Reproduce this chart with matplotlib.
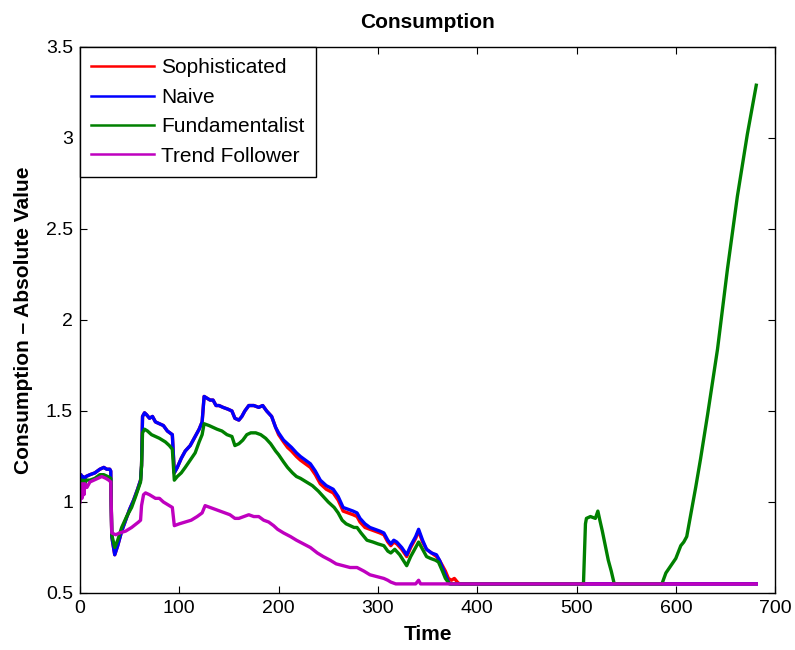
import matplotlib
matplotlib.use('Agg')
import matplotlib.pyplot as plt
from matplotlib.ticker import FormatStrFormatter

plt.rcParams['font.family'] = ['Liberation Sans', 'DejaVu Sans']

# data
naive_x = [0, 1, 2, 3, 4, 6, 10, 15, 20, 24, 27, 30, 31, 32, 35, 38, 42, 46, 50, 54, 58, 61, 62, 63, 65, 67, 70, 73, 76, 80,
           84, 88, 93, 95, 98, 102, 106, 111, 116, 120, 123, 125, 128, 131, 134, 137, 140, 144, 149, 153, 156, 160, 163, 166,
           170, 175, 180, 184, 188, 193, 197, 200, 205, 209, 213, 218, 222, 227, 232, 237, 242, 248, 255, 260, 265, 270, 275,
           279, 282, 287, 292, 297, 302, 306, 310, 313, 316, 319, 324, 329, 333, 338, 341, 345, 349, 354, 359, 362, 365, 368,
           371, 373, 681]
naive_y = [1.08, 1.15, 1.10, 1.14, 1.12, 1.14, 1.15, 1.16, 1.18, 1.19, 1.18, 1.18, 1.17, 0.81, 0.71, 0.76, 0.84, 0.90, 0.96,
           1.01, 1.07, 1.12, 1.20, 1.47, 1.49, 1.48, 1.46, 1.47, 1.44, 1.43, 1.42, 1.39, 1.37, 1.16, 1.19, 1.24, 1.28, 1.31,
           1.36, 1.40, 1.44, 1.58, 1.57, 1.56, 1.56, 1.53, 1.53, 1.52, 1.51, 1.50, 1.46, 1.45, 1.47, 1.50, 1.53, 1.53, 1.52,
           1.53, 1.50, 1.47, 1.41, 1.38, 1.34, 1.32, 1.30, 1.27, 1.25, 1.23, 1.21, 1.17, 1.12, 1.09, 1.07, 1.03, 0.97, 0.96,
           0.95, 0.94, 0.91, 0.88, 0.86, 0.85, 0.84, 0.83, 0.79, 0.77, 0.79, 0.78, 0.75, 0.71, 0.76, 0.81, 0.85, 0.79, 0.74,
           0.72, 0.71, 0.68, 0.64, 0.60, 0.56, 0.55, 0.55]

soph_x = [0, 1, 2, 3, 4, 6, 10, 15, 20, 24, 27, 30, 31, 32, 35, 38, 42, 46, 50, 54, 58, 61, 62, 63, 65, 67, 70, 73, 76, 80,
          84, 88, 93, 95, 98, 102, 106, 111, 116, 120, 123, 125, 128, 131, 134, 137, 140, 144, 149, 153, 156, 160, 163, 166,
          170, 175, 180, 184, 188, 193, 197, 200, 205, 209, 213, 218, 222, 227, 232, 237, 242, 248, 255, 260, 265, 270, 275,
          279, 282, 287, 292, 297, 302, 306, 310, 313, 316, 319, 324, 329, 333, 338, 341, 345, 349, 354, 359, 362, 365, 368,
          371, 374, 377, 380, 382, 681]
soph_y = [1.08, 1.15, 1.10, 1.14, 1.12, 1.14, 1.15, 1.16, 1.18, 1.19, 1.18, 1.18, 1.17, 0.81, 0.71, 0.76, 0.84, 0.90, 0.96,
          1.01, 1.07, 1.12, 1.20, 1.47, 1.49, 1.48, 1.46, 1.47, 1.44, 1.43, 1.42, 1.39, 1.37, 1.16, 1.19, 1.24, 1.28, 1.31,
          1.36, 1.40, 1.44, 1.58, 1.57, 1.56, 1.56, 1.53, 1.53, 1.52, 1.51, 1.50, 1.46, 1.45, 1.47, 1.50, 1.53, 1.53, 1.52,
          1.53, 1.50, 1.47, 1.41, 1.37, 1.33, 1.30, 1.28, 1.25, 1.23, 1.21, 1.19, 1.15, 1.10, 1.07, 1.05, 1.01, 0.95, 0.94,
          0.93, 0.92, 0.89, 0.86, 0.85, 0.84, 0.83, 0.82, 0.78, 0.76, 0.78, 0.77, 0.74, 0.70, 0.75, 0.80, 0.84, 0.78, 0.74,
          0.72, 0.70, 0.68, 0.65, 0.62, 0.58, 0.57, 0.58, 0.56, 0.55, 0.55]

fund_x = [0, 1, 2, 3, 4, 6, 10, 15, 20, 24, 28, 31, 32, 35, 38, 42, 47, 52, 56, 61, 62, 63, 65, 68, 72, 76, 80, 86, 90, 93,
          95, 98, 102, 106, 111, 116, 120, 123, 125, 130, 134, 138, 143, 148, 153, 156, 160, 164, 168, 172, 177, 182, 187,
          192, 197, 200, 205, 209, 214, 218, 222, 228, 234, 240, 245, 250, 256, 260, 264, 268, 272, 276, 279, 283, 289, 295,
          300, 306, 310, 313, 317, 322, 329, 333, 338, 341, 345, 349, 353, 358, 361, 365, 368, 372, 507, 509, 510, 514, 519,
          521.5, 523.5, 526, 529, 532, 535, 538, 586, 590, 595, 600, 605, 608, 611, 615, 620, 625, 632, 642, 652, 662, 672,
          681]
fund_y = [1.02, 1.12, 1.05, 1.12, 1.08, 1.12, 1.12, 1.13, 1.15, 1.15, 1.14, 1.13, 0.82, 0.75, 0.79, 0.86, 0.92, 0.97, 1.03,
          1.11, 1.20, 1.38, 1.40, 1.39, 1.37, 1.36, 1.35, 1.33, 1.31, 1.29, 1.12, 1.14, 1.16, 1.19, 1.23, 1.27, 1.33, 1.37,
          1.43, 1.42, 1.41, 1.40, 1.39, 1.37, 1.36, 1.31, 1.32, 1.34, 1.37, 1.38, 1.38, 1.37, 1.35, 1.32, 1.28, 1.26, 1.22,
          1.19, 1.16, 1.14, 1.13, 1.11, 1.09, 1.06, 1.03, 1.00, 0.97, 0.94, 0.90, 0.88, 0.87, 0.86, 0.86, 0.83, 0.79, 0.78,
          0.77, 0.76, 0.73, 0.72, 0.74, 0.71, 0.65, 0.70, 0.75, 0.78, 0.74, 0.70, 0.69, 0.68, 0.67, 0.62, 0.58, 0.55, 0.55,
          0.88, 0.91, 0.92, 0.91, 0.95, 0.90, 0.84, 0.76, 0.68, 0.62, 0.55, 0.55, 0.61, 0.65, 0.69, 0.76, 0.78, 0.81, 0.93,
          1.08, 1.24, 1.48, 1.84, 2.28, 2.68, 3.02, 3.29]

trend_x = [0, 1, 2, 3, 4, 5, 7, 10, 14, 18, 22, 26, 29, 31, 32, 36, 40, 46, 52, 59, 61, 62, 64, 66, 70, 76, 80, 84, 90, 93,
           95, 100, 106, 112, 118, 123, 126, 131, 136, 141, 146, 151, 156, 160, 165, 170, 175, 180, 185, 190, 195, 199, 205,
           212, 218, 225, 232, 239, 245, 252, 258, 265, 272, 279, 286, 292, 299, 306, 310, 313, 318, 338, 341, 343, 681]
trend_y = [1.00, 1.10, 1.02, 1.10, 1.04, 1.10, 1.08, 1.11, 1.12, 1.13, 1.14, 1.13, 1.12, 1.11, 0.83, 0.82, 0.83, 0.84, 0.86,
           0.89, 0.90, 0.98, 1.04, 1.05, 1.04, 1.02, 1.02, 1.00, 0.98, 0.97, 0.87, 0.88, 0.89, 0.90, 0.92, 0.94, 0.98, 0.97,
           0.96, 0.95, 0.94, 0.93, 0.91, 0.91, 0.92, 0.93, 0.92, 0.92, 0.90, 0.89, 0.87, 0.85, 0.83, 0.81, 0.79, 0.77, 0.75,
           0.72, 0.70, 0.68, 0.66, 0.65, 0.64, 0.64, 0.62, 0.60, 0.59, 0.58, 0.57, 0.56, 0.55, 0.55, 0.57, 0.55, 0.55]

labels = ['Sophisticated', 'Naive', 'Fundamentalist', 'Trend Follower']
colors = ['#ff0000', '#0000ff', '#008000', '#bf00bf']

fig = plt.figure(figsize=(7.95, 6.5), dpi=100)
ax = fig.add_axes([0.1006, 0.0877, 0.8744, 0.84])

series = [(soph_x, soph_y), (naive_x, naive_y), (fund_x, fund_y), (trend_x, trend_y)]
for (xs, ys), lab, c in zip(series, labels, colors):
    ax.plot(xs, ys, color=c, lw=2.4, label=lab)

ax.set_xlim(0, 700)
ax.set_ylim(0.5, 3.5)
ax.set_xticks(range(0, 701, 100))
ax.set_yticks([0.5, 1, 1.5, 2, 2.5, 3, 3.5])
ax.yaxis.set_major_formatter(FormatStrFormatter('%g'))
ax.tick_params(direction='in', top=True, right=True, labelsize=14, length=5, width=0.8, pad=5)
for s in ax.spines.values():
    s.set_linewidth(1.0)

ax.set_title('Consumption', fontsize=15, fontweight='bold', pad=14)
ax.set_xlabel('Time', fontsize=15, fontweight='bold', labelpad=6)
ax.set_ylabel('Consumption \u2013 Absolute Value', fontsize=15, fontweight='bold', labelpad=9)

leg = ax.legend(loc='upper left', bbox_to_anchor=(0, 1), borderaxespad=0, fontsize=15,
                handlelength=3.0, handletextpad=0.35, labelspacing=0.5, fancybox=False,
                framealpha=1, edgecolor='black', borderpad=0.55)
leg.get_frame().set_linewidth(1.0)
for l in leg.get_lines():
    l.set_linewidth(1.8)

fig.savefig('out.png', dpi=100)
